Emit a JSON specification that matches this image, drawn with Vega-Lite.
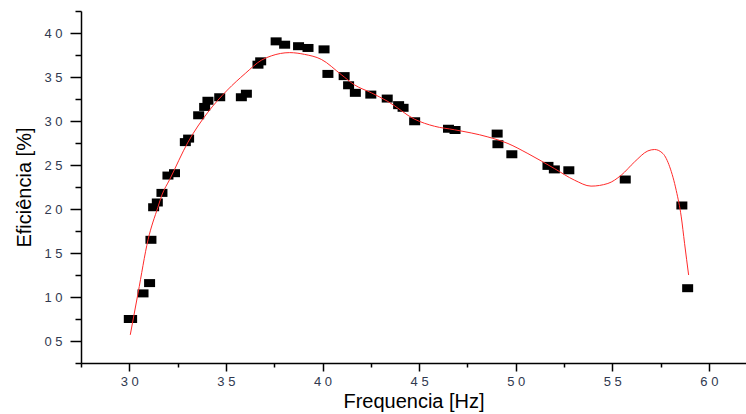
{
  "$schema": "https://vega.github.io/schema/vega-lite/v6.json",
  "width": 665,
  "height": 352,
  "autosize": {"type": "none"},
  "padding": {"left": 81, "top": 11, "right": 0, "bottom": 51},
  "background": "white",
  "config": {
    "view": {"stroke": null},
    "font": "Liberation Sans",
    "axis": {
      "labelFont": "Liberation Sans", "labelFontSize": 13, "labelColor": "#30394f",
      "labelOverlap": false, "labelFlush": false, "labelBound": false,
      "domainColor": "black", "domainWidth": 1.5, "tickColor": "black", "tickWidth": 1.5,
      "grid": false,
      "titleFont": "Liberation Sans", "titleFontSize": 20, "titleFontWeight": "normal", "titleColor": "black"
    }
  },
  "datasets": {
    "points": [
      {"f": 30.0, "e": 7.5}, {"f": 30.12, "e": 7.5}, {"f": 30.71, "e": 10.41}, {"f": 31.05, "e": 11.58},
      {"f": 31.12, "e": 16.5}, {"f": 31.26, "e": 20.2}, {"f": 31.45, "e": 20.74}, {"f": 31.69, "e": 21.83},
      {"f": 32.0, "e": 23.8}, {"f": 32.34, "e": 24.07}, {"f": 32.9, "e": 27.6}, {"f": 33.07, "e": 28.0},
      {"f": 33.59, "e": 30.65}, {"f": 33.9, "e": 31.6}, {"f": 34.07, "e": 32.3}, {"f": 34.68, "e": 32.7},
      {"f": 35.8, "e": 32.7}, {"f": 36.06, "e": 33.1}, {"f": 36.66, "e": 36.4}, {"f": 36.8, "e": 36.78},
      {"f": 37.6, "e": 39.05}, {"f": 38.04, "e": 38.67}, {"f": 38.76, "e": 38.5}, {"f": 39.25, "e": 38.3},
      {"f": 40.08, "e": 38.14}, {"f": 40.28, "e": 35.35}, {"f": 41.12, "e": 35.1}, {"f": 41.35, "e": 34.06},
      {"f": 41.7, "e": 33.2}, {"f": 42.5, "e": 33.0}, {"f": 43.35, "e": 32.55}, {"f": 43.94, "e": 31.8},
      {"f": 44.17, "e": 31.5}, {"f": 44.77, "e": 29.97}, {"f": 46.52, "e": 29.12}, {"f": 46.86, "e": 28.98},
      {"f": 49.04, "e": 28.57}, {"f": 49.08, "e": 27.36}, {"f": 49.8, "e": 26.22}, {"f": 51.67, "e": 24.9},
      {"f": 52.0, "e": 24.5}, {"f": 52.75, "e": 24.4}, {"f": 55.67, "e": 23.35}, {"f": 58.6, "e": 20.4},
      {"f": 58.9, "e": 11.0}
    ],
    "fit": [
      {"f": 30.05, "e": 5.7}, {"f": 30.45, "e": 10.4}, {"f": 30.97, "e": 16.5}, {"f": 31.48, "e": 20.2},
      {"f": 31.69, "e": 21.6}, {"f": 32.09, "e": 23.35}, {"f": 33.04, "e": 27.6}, {"f": 34.07, "e": 31.0},
      {"f": 35.07, "e": 33.5}, {"f": 36.0, "e": 35.4}, {"f": 36.83, "e": 36.9}, {"f": 37.35, "e": 37.4},
      {"f": 38.3, "e": 37.77}, {"f": 39.07, "e": 37.57}, {"f": 39.94, "e": 37.0}, {"f": 40.97, "e": 35.27},
      {"f": 41.66, "e": 34.1}, {"f": 42.53, "e": 33.2}, {"f": 43.4, "e": 32.2}, {"f": 44.77, "e": 30.2},
      {"f": 45.8, "e": 29.4}, {"f": 46.84, "e": 29.0}, {"f": 48.56, "e": 28.19}, {"f": 49.6, "e": 27.44},
      {"f": 50.63, "e": 26.3}, {"f": 52.0, "e": 24.6}, {"f": 53.05, "e": 23.27}, {"f": 53.9, "e": 22.6},
      {"f": 54.77, "e": 22.9}, {"f": 55.46, "e": 23.84}, {"f": 56.15, "e": 25.35}, {"f": 56.84, "e": 26.6},
      {"f": 57.19, "e": 26.76}, {"f": 57.62, "e": 26.3}, {"f": 57.97, "e": 24.8}, {"f": 58.31, "e": 22.1},
      {"f": 58.57, "e": 19.1}, {"f": 58.74, "e": 16.1}, {"f": 58.95, "e": 12.5}
    ]
  },
  "resolve": {"axis": {"x": "independent", "y": "independent"}},
  "layer": [
    {
      "data": {"name": "points"},
      "mark": {"type": "point", "shape": "M-1,-0.727L1,-0.727L1,0.727L-1,0.727Z", "size": 121, "filled": true, "color": "black", "opacity": 1, "strokeWidth": 0},
      "encoding": {
        "x": {
          "field": "f", "type": "quantitative",
          "scale": {"domain": [27.5, 61.92], "nice": false, "zero": false},
          "axis": {
            "orient": "bottom",
            "title": "Frequencia [Hz]",
            "values": [30, 35, 40, 45, 50, 55, 60],
            "tickSize": 8,
            "labelExpr": "substring(format(datum.value,'02d'),0,1) + ' ' + substring(format(datum.value,'02d'),1,2)",
            "labelPadding": 4,
            "titlePadding": 3
          }
        },
        "y": {
          "field": "e", "type": "quantitative",
          "scale": {"domain": [2.5, 42.5], "nice": false, "zero": false},
          "axis": {
            "orient": "left",
            "title": "Eficiência [%]",
            "values": [5, 10, 15, 20, 25, 30, 35, 40],
            "tickSize": 11,
            "labelExpr": "substring(format(datum.value,'02d'),0,1) + ' ' + substring(format(datum.value,'02d'),1,2)",
            "labelPadding": 8,
            "titlePadding": 9
          }
        }
      }
    },
    {
      "data": {"name": "fit"},
      "mark": {"type": "line", "color": "#ff2a2a", "strokeWidth": 1, "interpolate": "monotone"},
      "encoding": {
        "x": {
          "field": "f", "type": "quantitative",
          "axis": {
            "orient": "bottom",
            "title": null,
            "values": [27.5, 32.5, 37.5, 42.5, 47.5, 52.5, 57.5],
            "tickSize": 4,
            "labels": false,
            "domain": false
          }
        },
        "y": {
          "field": "e", "type": "quantitative",
          "axis": {
            "orient": "left",
            "title": null,
            "values": [2.5, 7.5, 12.5, 17.5, 22.5, 27.5, 32.5, 37.5, 42.5],
            "tickSize": 6,
            "labels": false,
            "domain": false
          }
        }
      }
    }
  ]
}
